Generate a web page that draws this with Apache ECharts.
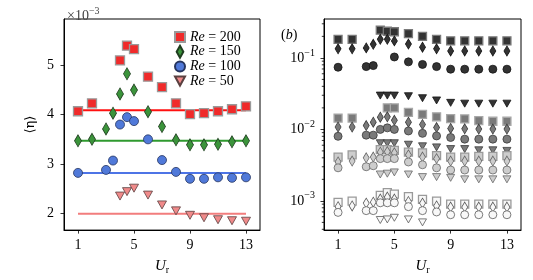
<!DOCTYPE html>
<html><head><meta charset="utf-8">
<script src="https://cdn.jsdelivr.net/npm/echarts@6/dist/echarts.min.js"></script>
<style>html,body{margin:0;padding:0;background:#fff}#c{width:533px;height:280px}</style>
</head><body><div id="c"></div>
<script>
// ---------- data ----------
const xTicks = [1, 5, 9, 13];
const yTicksA = [2, 3, 4, 5];            // in units of 1e-3
const yTicksB = [0.001, 0.01, 0.1];
const yMinorB = [0.0004,0.0005,0.0006,0.0007,0.0008,0.0009,0.002,0.003,0.004,0.005,0.006,0.007,0.008,0.009,0.02,0.03,0.04,0.05,0.06,0.07,0.08,0.09,0.2,0.3];
const reNames = ['Re = 200', 'Re = 150', 'Re = 100', 'Re = 50'];

const xRe200 = [1,2,4,4.5,5,6,7,8,9,10,11,12,13];
const xRe150 = [1,2,3,3.5,4,4.5,5,6,7,8,9,10,11,12,13];
const xRe100 = [1,3,3.5,4,4.5,5,6,7,8,9,10,11,12,13];
const xRe50  = [4,4.5,5,6,7,8,9,10,11,12,13];

// panel (a): <eta> x 1e-3
const aRe200 = [4.07,4.23,5.10,5.40,5.33,4.77,4.56,4.23,4.01,4.03,4.07,4.11,4.17];
const aRe150 = [3.47,3.50,3.71,4.03,4.42,4.83,4.50,4.06,3.76,3.49,3.39,3.39,3.40,3.45,3.47];
const aRe100 = [2.82,2.88,3.07,3.80,3.95,3.87,3.50,3.08,2.84,2.70,2.70,2.73,2.72,2.73];
const aRe50  = [2.35,2.44,2.51,2.37,2.17,2.05,1.96,1.91,1.87,1.85,1.84];
const aLevels = [4.09, 3.47, 2.82, 1.99];
const lineSpan = [1, 13];

// panel (b): four groups (dark, medium, light, white)
const b1Re200 = [0.182,0.182,0.244,0.236,0.232,0.218,0.200,0.182,0.173,0.173,0.173,0.173,0.173];
const b1Re150 = [0.134,0.134,0.138,0.155,0.182,0.182,0.173,0.156,0.141,0.134,0.125,0.125,0.125,0.125,0.125];
const b1Re100 = [0.074,0.0755,0.078,null,null,0.103,0.088,0.081,0.0755,0.0695,0.0695,0.0695,0.0695,0.0695];
const b1Re50  = [0.0297,0.0297,0.0297,0.0291,0.0273,0.0254,0.0235,0.0229,0.0229,0.0229,0.0229];

const b2Re200 = [0.0144,0.0144,null,0.0200,0.0200,0.0173,0.0162,0.0150,0.0141,0.0140,0.0133,0.0130,0.0130];
const b2Re150 = [0.0108,0.0108,0.0113,0.0126,0.0148,0.0150,0.0134,0.0126,0.0117,0.0106,0.0103,0.0102,0.0101,0.0101,0.0101];
const b2Re100 = [0.0080,0.0083,0.0083,0.0100,0.0105,0.0100,0.0095,0.0088,0.0081,0.0077,0.0073,0.0073,0.0073,0.0073];
const b2Re50  = [0.0064,0.0064,0.0064,0.0061,0.0058,0.0056,0.0053,0.0053,0.0051,0.0051,0.0050];

const b3Re200 = [0.0041,0.0044,0.0052,0.0052,0.0051,0.0048,0.0047,0.0043,0.0041,0.0041,0.0042,0.0042,0.0043];
const b3Re150 = [0.0035,0.0036,0.0040,0.0041,0.0048,0.0049,0.0047,0.0044,0.0041,0.0039,0.0036,0.0036,0.0036,0.0036,0.0036];
const b3Re100 = [0.0029,0.0030,0.0031,0.0039,0.0039,0.0039,0.0035,0.0032,0.0029,0.0027,0.0027,0.0027,0.0027,0.0027];
const b3Re50  = [0.00234,0.0024,0.0025,0.00234,0.00215,0.00215,0.0021,0.0020,0.0020,0.0020,0.0020];

const b4Re200 = [0.00095,0.00099,0.00119,0.0013,0.00124,0.00115,0.00105,0.00099,0.0009,0.0009,0.0009,0.0009,0.0009];
const b4Re150 = [0.00083,0.00085,0.00093,0.00096,0.00106,0.00113,0.00106,0.00098,0.00093,0.00085,0.00082,0.00082,0.00082,0.00082,0.00082];
const b4Re100 = [0.00069,0.00073,0.00073,0.00094,0.00094,0.00094,0.00083,0.00073,0.0007,0.00064,0.00064,0.00064,0.00064,0.00064];
const b4Re50  = [0.00054,0.00055,0.00058,0.00055,0.0005,null,null,null,null,null,null];

// ---------- styling ----------
const FONT = 'Liberation Serif';
const pair = (xs, ys) => xs.map((x, i) => [x, ys[i]]).filter(p => p[1] != null);

const shapes = [
  {sym: 'rect', sizeA: 9, sizeB: 8, rot: 0, icon: 'path://M0,0L10,0L10,10L0,10Z'},
  {sym: 'diamond', sizeA: [7, 12], sizeB: [6, 10], rot: 0, icon: 'path://M5,0L10,9L5,18L0,9Z'},
  {sym: 'circle', sizeA: 9, sizeB: 8, rot: 0, icon: 'circle'},
  {sym: 'triangle', sizeA: [9, 8], sizeB: [8, 7], rot: 180, icon: 'path://M0,0L10,0L5,9Z'}
];
const xsByRe = [xRe200, xRe150, xRe100, xRe50];
const aVals = [aRe200, aRe150, aRe100, aRe50];
const aFill = ['#f02a2a', '#3b943b', '#5079d9', '#f08a8a'];
const aEdge = ['#9a9a9a', '#1f3d1f', '#26355f', '#5a4040'];
const aLine = ['#ff1010', '#2f9a2f', '#4d74e6', '#f27d7d'];

const bGroups = [
  [b1Re200, b1Re150, b1Re100, b1Re50],
  [b2Re200, b2Re150, b2Re100, b2Re50],
  [b3Re200, b3Re150, b3Re100, b3Re50],
  [b4Re200, b4Re150, b4Re100, b4Re50]
];
const bFill = ['#333333', '#7a7a7a', '#cdcdcd', '#f8f8f8'];
const bEdge = ['#151515', '#3a3a3a', '#666666', '#5a5a5a'];
const bSqEdge = ['#7a7a7a', '#a8a8a8', '#9a9a9a', '#9a9a9a'];

const series = [];
// panel (a) level lines
aLevels.forEach((lv, k) => {
  series.push({
    type: 'line', xAxisIndex: 0, yAxisIndex: 0, name: 'lvl' + k,
    data: lineSpan.map(x => [x, lv]), symbol: 'none', z: 1,
    lineStyle: {color: aLine[k], width: 2}, silent: true
  });
});
// panel (a) markers
aVals.forEach((vals, k) => {
  const s = shapes[k];
  series.push({
    type: 'scatter', xAxisIndex: 0, yAxisIndex: 0, name: reNames[k],
    data: pair(xsByRe[k], vals), symbol: s.sym, symbolSize: s.sizeA, symbolRotate: s.rot, z: 3,
    itemStyle: {color: aFill[k], borderColor: aEdge[k], borderWidth: k === 0 ? 1.3 : 0.8, opacity: 1}
  });
});
// panel (b) markers
bGroups.forEach((grp, g) => {
  grp.forEach((vals, k) => {
    const s = shapes[k];
    series.push({
      type: 'scatter', xAxisIndex: 1, yAxisIndex: 1, name: 'b' + g + '_' + k,
      data: pair(xsByRe[k], vals), symbol: s.sym, symbolSize: s.sizeB, symbolRotate: s.rot, z: 3,
      itemStyle: {color: bFill[g], borderColor: k === 0 ? bSqEdge[g] : bEdge[g], borderWidth: k === 0 ? 1.3 : 0.8, opacity: 1}
    });
  });
});
// panel (b) minor ticks on log axis
series.push({
  type: 'custom', xAxisIndex: 1, yAxisIndex: 1, name: 'minor', silent: true, clip: false, z: 5,
  data: yMinorB.map(v => [0, v]),
  renderItem: (params, api) => {
    const p = api.coord([api.value(0), api.value(1)]);
    return {type: 'line', shape: {x1: p[0] - 2.2, y1: p[1], x2: p[0], y2: p[1]}, style: {stroke: '#000', lineWidth: 0.8}};
  }
});

const richTxt = {
  i: {fontFamily: FONT, fontStyle: 'italic', fontSize: 15, lineHeight: 18, color: '#000'},
  s: {fontFamily: FONT, fontSize: 10, verticalAlign: 'bottom', color: '#000'}
};
const xAxisBase = (gi) => ({
  type: 'value', gridIndex: gi, min: 0, max: 14,
  axisLine: {show: true, lineStyle: {color: '#000', width: 1}},
  axisTick: {show: true, customValues: xTicks, length: 3.5, lineStyle: {color: '#000', width: 0.8}},
  axisLabel: {customValues: xTicks, margin: 8, fontFamily: FONT, fontSize: 14, color: '#000'},
  splitLine: {show: false},
  name: '{i|U}{s|r}', nameLocation: 'middle', nameGap: 23,
  nameTextStyle: {lineHeight: 18, rich: richTxt}
});

const option = {
  animation: false,
  backgroundColor: '#fff',
  grid: [
    {left: 64, top: 19, width: 196, height: 218, show: true, borderColor: '#000', borderWidth: 1, backgroundColor: 'transparent'},
    {left: 324, top: 19, width: 197, height: 218, show: true, borderColor: '#000', borderWidth: 1, backgroundColor: 'transparent'}
  ],
  title: [
    {text: '×10{s|−3}', left: 62, top: 1, textStyle: {fontFamily: FONT, fontSize: 14, fontWeight: 'normal', color: '#444', lineHeight: 20,
      rich: {s: {fontFamily: FONT, fontSize: 10, verticalAlign: 'top', color: '#444'}}}},
    {text: '({i|b})', left: 276, top: 23, textStyle: {fontFamily: FONT, fontSize: 14, fontWeight: 'normal', color: '#000',
      rich: {i: {fontFamily: FONT, fontSize: 14, fontStyle: 'italic', color: '#000'}}}}
  ],
  legend: {
    data: reNames.map((n, k) => ({name: n, icon: shapes[k].icon})),
    orient: 'vertical', left: 169, top: 25, itemWidth: 10, itemHeight: 12, itemGap: 0.7,
    symbolKeepAspect: true, selectedMode: false,
    formatter: n => '{i|Re}{n| = ' + n.split('= ')[1] + '}',
    textStyle: {fontFamily: FONT, fontSize: 14, color: '#000', lineHeight: 12,
      rich: {i: {fontFamily: FONT, fontStyle: 'italic', fontSize: 14, lineHeight: 12, color: '#000'},
             n: {fontFamily: FONT, fontSize: 14, lineHeight: 12, color: '#000'}}}
  },
  xAxis: [xAxisBase(0), xAxisBase(1)],
  yAxis: [
    {type: 'value', gridIndex: 0, min: 1.66, max: 5.94,
      axisLine: {show: true, lineStyle: {color: '#000', width: 1}},
      axisTick: {show: true, customValues: yTicksA, length: 3.5, lineStyle: {color: '#000', width: 0.8}},
      axisLabel: {customValues: yTicksA, margin: 10, fontFamily: FONT, fontSize: 14, color: '#000'},
      splitLine: {show: false},
      name: '⟨η⟩', nameLocation: 'middle', nameGap: 27, nameRotate: 90,
      nameTextStyle: {fontFamily: 'DejaVu Serif', fontSize: 13, color: '#000'}},
    {type: 'log', logBase: 10, gridIndex: 1, min: 0.00039, max: 0.35,
      axisLine: {show: true, lineStyle: {color: '#000', width: 1}},
      axisTick: {show: true, customValues: yTicksB, length: 3.5, lineStyle: {color: '#000', width: 0.8}},
      axisLabel: {customValues: yTicksB, margin: 9, fontFamily: FONT, fontSize: 14, color: '#000', lineHeight: 20,
        formatter: v => '10{s|−' + Math.round(-Math.log10(v)) + '}',
        rich: {s: {fontFamily: FONT, fontSize: 10, verticalAlign: 'top', color: '#000'}}},
      splitLine: {show: false}, minorTick: {show: false}}
  ],
  series: series
};
const chart = echarts.init(document.getElementById('c'), null, {renderer: 'canvas'});
chart.setOption(option);
</script></body></html>
